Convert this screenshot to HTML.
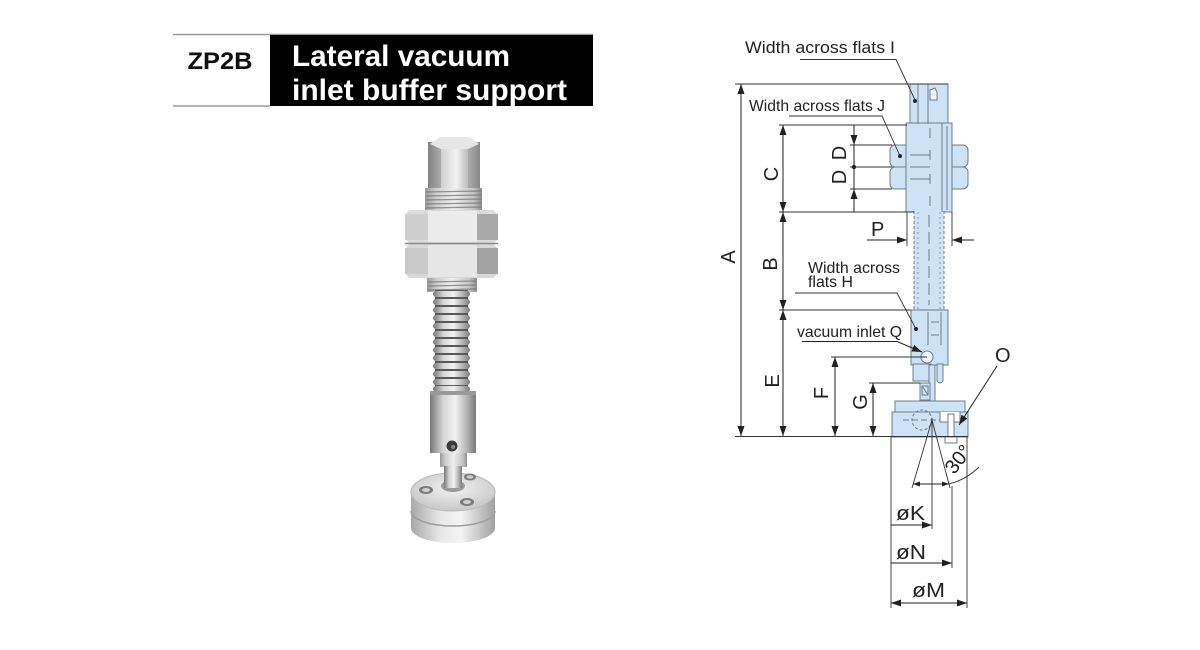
<!DOCTYPE html>
<html><head><meta charset="utf-8"><style>
html,body{margin:0;padding:0;background:#fff;}
svg{display:block;}
text{font-family:"Liberation Sans",Arial,sans-serif;}
</style></head><body>
<svg width="1200" height="650" viewBox="0 0 1200 650" xmlns="http://www.w3.org/2000/svg">
<defs>
<linearGradient id="m1" x1="0" x2="1" y1="0" y2="0">
<stop offset="0" stop-color="#767676"/><stop offset="0.28" stop-color="#d4d4d4"/><stop offset="0.55" stop-color="#f2f2f2"/><stop offset="0.8" stop-color="#b4b4b4"/><stop offset="1" stop-color="#7a7a7a"/>
</linearGradient>
<linearGradient id="m2" x1="0" x2="1" y1="0" y2="0">
<stop offset="0" stop-color="#9a9a9a"/><stop offset="0.2" stop-color="#cfcfcf"/><stop offset="0.5" stop-color="#ededed"/><stop offset="0.85" stop-color="#c4c4c4"/><stop offset="1" stop-color="#8d8d8d"/>
</linearGradient>
<linearGradient id="pad" x1="0" x2="1" y1="0" y2="0">
<stop offset="0" stop-color="#a8a8a8"/><stop offset="0.35" stop-color="#e8e8e8"/><stop offset="0.6" stop-color="#f4f4f4"/><stop offset="1" stop-color="#a0a0a0"/>
</linearGradient>
<radialGradient id="padtop" cx="0.5" cy="0.4" r="0.6">
<stop offset="0" stop-color="#f2f2f2"/><stop offset="1" stop-color="#c8c8c8"/>
</radialGradient>
<marker id="ar" viewBox="0 0 10 7" refX="10" refY="3.5" markerWidth="10" markerHeight="7" markerUnits="userSpaceOnUse" orient="auto-start-reverse">
<path d="M0,0 L10,3.5 L0,7 z" fill="#222"/>
</marker>
<marker id="ars" viewBox="0 0 10 7" refX="10" refY="3.5" markerWidth="7" markerHeight="5" markerUnits="userSpaceOnUse" orient="auto-start-reverse">
<path d="M0,0 L10,3.5 L0,7 z" fill="#222"/>
</marker>
</defs>

<!-- ===== Title ===== -->
<line x1="173" y1="34.5" x2="593" y2="34.5" stroke="#9a9a9a" stroke-width="1.5"/>
<rect x="270" y="35" width="323" height="71" fill="#000"/>
<line x1="173" y1="106" x2="270" y2="106" stroke="#9a9a9a" stroke-width="1.5"/>
<text x="220" y="69" font-size="24" font-weight="bold" text-anchor="middle" fill="#111" textLength="65" lengthAdjust="spacingAndGlyphs">ZP2B</text>
<text x="292" y="66" font-size="30" font-weight="bold" fill="#fff" textLength="218" lengthAdjust="spacingAndGlyphs">Lateral vacuum</text>
<text x="292" y="100" font-size="30" font-weight="bold" fill="#fff" textLength="275" lengthAdjust="spacingAndGlyphs">inlet buffer support</text>

<!-- ===== Photo ===== -->
<g>
<!-- top hex -->
<rect x="428" y="142" width="52" height="52" fill="url(#m1)"/>
<rect x="428" y="142" width="13" height="52" fill="#8e8e8e" opacity="0.5"/>
<rect x="468" y="142" width="12" height="52" fill="#999" opacity="0.45"/>
<path d="M430,144 L440,137 L470,137 L479,144 L468,149 L441,149 Z" fill="#e6e6e6"/>
<!-- thread above nut -->
<rect x="425" y="188" width="57" height="24" fill="url(#m2)"/>
<g stroke="#6e6e6e" stroke-width="1.2" opacity="0.7">
<line x1="426" y1="192" x2="481" y2="191"/><line x1="426" y1="196" x2="481" y2="195"/><line x1="426" y1="200" x2="481" y2="199"/><line x1="426" y1="204" x2="481" y2="203"/><line x1="426" y1="208" x2="481" y2="207"/>
</g>
<!-- nuts -->
<path d="M409,210 L494,210 L498,215 L498,239 L494,243 L409,243 L405,239 L405,215 Z" fill="#dcdcdc"/>
<rect x="405" y="214" width="23" height="26" fill="#cfcfcf"/>
<rect x="428" y="211" width="49" height="31" fill="#ececec"/>
<rect x="477" y="214" width="21" height="26" fill="#a9a9a9"/>
<path d="M409,244 L494,244 L498,249 L498,273 L494,278 L409,278 L405,273 L405,249 Z" fill="#d8d8d8"/>
<rect x="405" y="248" width="23" height="26" fill="#c9c9c9"/>
<rect x="428" y="245" width="49" height="32" fill="#e6e6e6"/>
<rect x="477" y="248" width="21" height="26" fill="#a2a2a2"/>
<line x1="405" y1="243.5" x2="498" y2="243.5" stroke="#8a8a8a" stroke-width="1.5"/>
<!-- thread below nut -->
<rect x="427" y="278" width="50" height="14" fill="url(#m2)"/>
<g stroke="#6e6e6e" stroke-width="1.2" opacity="0.7">
<line x1="428" y1="282" x2="476" y2="281"/><line x1="428" y1="286" x2="476" y2="285"/><line x1="428" y1="290" x2="476" y2="289"/>
</g>
<!-- spring -->
<rect x="435" y="290" width="33" height="104" fill="#5a5a5a"/>
<g fill="url(#m1)">
<rect x="433" y="291" width="37" height="6" rx="3"/><rect x="433" y="299" width="37" height="6" rx="3"/><rect x="433" y="307" width="37" height="6" rx="3"/><rect x="433" y="315" width="37" height="6" rx="3"/><rect x="433" y="323" width="37" height="6" rx="3"/><rect x="433" y="331" width="37" height="6" rx="3"/><rect x="433" y="339" width="37" height="6" rx="3"/><rect x="433" y="347" width="37" height="6" rx="3"/><rect x="433" y="355" width="37" height="6" rx="3"/><rect x="433" y="363" width="37" height="6" rx="3"/><rect x="433" y="371" width="37" height="6" rx="3"/><rect x="433" y="379" width="37" height="6" rx="3"/><rect x="433" y="386" width="37" height="6" rx="3"/>
</g>
<!-- lower hex -->
<rect x="430" y="391" width="46" height="62" fill="url(#m1)"/>
<rect x="430" y="391" width="46" height="4" fill="#9a9a9a"/>
<circle cx="452" cy="446" r="5.5" fill="#3a3a3a"/>
<circle cx="453" cy="447" r="2" fill="#888"/>
<!-- neck & stem -->
<rect x="440" y="453" width="27" height="14" fill="url(#m2)"/>
<rect x="444" y="466" width="18" height="26" fill="url(#m1)"/>
<!-- pad -->
<path d="M411,492 L411,528 A42,15 0 0 0 495,528 L495,492 Z" fill="url(#pad)"/>
<path d="M411,511 A42,15 0 0 0 495,511" fill="none" stroke="#9e9e9e" stroke-width="1.5"/>
<ellipse cx="453" cy="492" rx="42" ry="19" fill="url(#padtop)" stroke="#b8b8b8" stroke-width="1"/>
<ellipse cx="453" cy="486" rx="12" ry="6" fill="#9a9a9a"/>
<rect x="444" y="466" width="18" height="22" fill="url(#m1)"/>
<ellipse cx="426" cy="490" rx="7" ry="4" fill="#7c7c7c"/><ellipse cx="426" cy="490" rx="4" ry="2" fill="#cfcfcf"/>
<ellipse cx="467" cy="502" rx="7" ry="4" fill="#7c7c7c"/><ellipse cx="467" cy="502" rx="4" ry="2" fill="#cfcfcf"/>
<ellipse cx="470" cy="477" rx="6" ry="3.5" fill="#7c7c7c"/><ellipse cx="470" cy="477" rx="3.5" ry="1.8" fill="#cfcfcf"/>
</g>

<!-- ===== Technical drawing ===== -->
<g fill="#cde2f4" stroke="#6f7d8a" stroke-width="1">
<!-- nuts -->
<rect x="890" y="145" width="78" height="22" rx="5"/>
<rect x="890" y="167" width="78" height="22" rx="5"/>
<!-- top I part -->
<rect x="910" y="84" width="38" height="40"/>
<!-- body -->
<rect x="906" y="123" width="46" height="89"/>
<!-- shaft/spring -->
<rect x="914" y="211" width="30" height="100" stroke="none"/>
<!-- H hex -->
<rect x="911" y="310" width="37" height="55"/>
<rect x="913" y="364" width="18" height="17"/>
<path d="M937,364 L943,364 L943,381 Q940,385 937,381 Z"/>
<!-- thin stem -->
<rect x="929" y="365" width="6" height="58"/>
<!-- small block G -->
<rect x="920" y="383" width="10" height="17"/>
<!-- pad -->
<rect x="895" y="401" width="70" height="11"/>
<rect x="892" y="412" width="76" height="25"/>
</g>
<g fill="none" stroke="#6f7d8a" stroke-width="1">
<!-- body internal lines -->
<line x1="918" y1="84" x2="918" y2="124"/>
<line x1="928" y1="84" x2="928" y2="124"/>
<path d="M930,90 L935,88 L937,92 L937,100 L930,100 Z" fill="#eef5fb"/>
<line x1="942" y1="123" x2="942" y2="212"/>
<line x1="947" y1="126" x2="947" y2="210"/>
<line x1="910" y1="155" x2="930" y2="155"/>
<line x1="910" y1="167" x2="930" y2="167"/>
<line x1="910" y1="179" x2="930" y2="179"/>
<line x1="930" y1="150" x2="930" y2="160"/>
<line x1="930" y1="174" x2="930" y2="184"/>
<line x1="930" y1="196" x2="930" y2="206"/>
<line x1="930" y1="128" x2="930" y2="138"/>
<!-- spring dashed edges -->
<line x1="914" y1="211" x2="914" y2="311" stroke-dasharray="3,2"/>
<line x1="944" y1="211" x2="944" y2="311" stroke-dasharray="3,2"/>
<line x1="918" y1="212" x2="918" y2="310" stroke-dasharray="2,3" stroke="#8c9aa6"/>
<line x1="940" y1="212" x2="940" y2="310" stroke-dasharray="2,3" stroke="#8c9aa6"/>
<line x1="929" y1="215" x2="929" y2="305" stroke-dasharray="12,5" stroke="#6f7d8a"/>
<!-- H internals -->
<line x1="928" y1="312" x2="928" y2="345"/>
<line x1="941" y1="312" x2="941" y2="345"/>
<line x1="931" y1="322" x2="939" y2="322"/>
<line x1="931" y1="335" x2="939" y2="335"/>
<!-- G block inner -->
<rect x="922" y="386" width="6" height="9"/>
<line x1="922" y1="386" x2="928" y2="395"/>
<!-- pad inner -->
<line x1="903" y1="420" x2="952" y2="420" stroke-dasharray="6,3"/>
<circle cx="922" cy="420" r="10" stroke-dasharray="3,2"/>
<path d="M940,412 L940,422 L960,422 L960,412" fill="#fff"/>
</g>
<!-- ball -->
<circle cx="927" cy="357" r="6" fill="#eef5fb" stroke="#6f7d8a" stroke-width="1"/>
<!-- small bolt O -->
<rect x="948" y="414" width="6" height="23" fill="#fff" stroke="#6f7d8a" stroke-width="1"/>
<rect x="945" y="437" width="12" height="6" fill="#fff" stroke="#6f7d8a" stroke-width="1"/>

<!-- dots -->
<g fill="#222">
<circle cx="915" cy="101" r="2"/>
<circle cx="900" cy="156" r="2"/>
<circle cx="916" cy="329" r="2"/>
<circle cx="854" cy="167" r="2.2"/>
</g>

<!-- extension lines -->
<g stroke="#333" stroke-width="0.9" fill="none">
<line x1="735" y1="84" x2="948" y2="84"/>
<line x1="779" y1="125" x2="907" y2="125"/>
<line x1="779" y1="212" x2="914" y2="212"/>
<line x1="779" y1="310" x2="911" y2="310"/>
<line x1="735" y1="436.5" x2="968" y2="436.5"/>
<line x1="850" y1="145" x2="892" y2="145"/>
<line x1="850" y1="167" x2="892" y2="167"/>
<line x1="850" y1="189" x2="892" y2="189"/>
<line x1="831" y1="357" x2="927" y2="357"/>
<line x1="869" y1="383" x2="920" y2="383"/>
<line x1="907" y1="212" x2="907" y2="246"/>
<line x1="952" y1="212" x2="952" y2="246"/>
<line x1="891" y1="437" x2="891" y2="608"/>
<line x1="967" y1="437" x2="967" y2="608"/>
<line x1="952" y1="486" x2="952" y2="568"/>
<line x1="932" y1="418" x2="932" y2="529"/>
<!-- cone -->
<line x1="932" y1="420" x2="912" y2="488"/>
<line x1="932" y1="420" x2="950" y2="488"/>
<!-- 30 deg arc -->
<path d="M949,484 A66,66 0 0 0 979,467"/>
<!-- leaders -->
<polyline points="800,59.5 896,59.5 915,100"/>
<polyline points="789,116 882,116 900,156"/>
<polyline points="795,293 897,293 916,329"/>
</g>

<!-- dimension lines with arrows -->
<g stroke="#222" stroke-width="1" fill="none">
<line x1="741" y1="84" x2="741" y2="436" marker-start="url(#ar)" marker-end="url(#ar)"/>
<line x1="783" y1="125" x2="783" y2="212" marker-start="url(#ar)" marker-end="url(#ar)"/>
<line x1="783" y1="212" x2="783" y2="310" marker-start="url(#ar)" marker-end="url(#ar)"/>
<line x1="783" y1="310" x2="783" y2="436" marker-start="url(#ar)" marker-end="url(#ar)"/>
<line x1="854" y1="125" x2="854" y2="145" marker-end="url(#ar)"/>
<line x1="854" y1="145" x2="854" y2="189"/>
<line x1="854" y1="212" x2="854" y2="189" marker-end="url(#ar)"/>
<line x1="835" y1="357" x2="835" y2="436" marker-start="url(#ar)" marker-end="url(#ar)"/>
<line x1="873" y1="383" x2="873" y2="436" marker-start="url(#ar)" marker-end="url(#ar)"/>
<line x1="867" y1="240" x2="907" y2="240" marker-end="url(#ar)"/>
<line x1="974" y1="240" x2="952" y2="240" marker-end="url(#ar)"/>
<line x1="891" y1="525" x2="932" y2="525" marker-end="url(#ar)"/>
<line x1="891" y1="563" x2="952" y2="563" marker-end="url(#ar)"/>
<line x1="891" y1="603" x2="967" y2="603" marker-start="url(#ar)" marker-end="url(#ar)"/>
<line x1="913" y1="484" x2="949" y2="484" marker-start="url(#ars)" marker-end="url(#ars)"/>
<line x1="802" y1="341.5" x2="897" y2="341.5"/>
<line x1="897" y1="341.5" x2="922" y2="352" marker-end="url(#ar)"/>
<line x1="997" y1="366" x2="959" y2="425" marker-end="url(#ar)"/>
</g>

<!-- labels -->
<g fill="#222">
<text x="745" y="53" font-size="17" textLength="150" lengthAdjust="spacingAndGlyphs">Width across flats I</text>
<text x="749" y="111" font-size="16" textLength="136" lengthAdjust="spacingAndGlyphs">Width across flats J</text>
<text x="808" y="273" font-size="16" textLength="92" lengthAdjust="spacingAndGlyphs">Width across</text>
<text x="808" y="287" font-size="16" textLength="45" lengthAdjust="spacingAndGlyphs">flats H</text>
<text x="797" y="337" font-size="16" textLength="105" lengthAdjust="spacingAndGlyphs">vacuum inlet Q</text>
<text x="871" y="236" font-size="20">P</text>
<text x="995" y="362" font-size="20">O</text>
<g font-size="20" text-anchor="middle">
<text transform="translate(728,257) rotate(-90)" x="0" y="7">A</text>
<text transform="translate(771,174) rotate(-90)" x="0" y="7">C</text>
<text transform="translate(770,264) rotate(-90)" x="0" y="7">B</text>
<text transform="translate(772,381) rotate(-90)" x="0" y="7">E</text>
<text transform="translate(839,153) rotate(-90)" x="0" y="7">D</text>
<text transform="translate(839,177) rotate(-90)" x="0" y="7">D</text>
<text transform="translate(821,393) rotate(-90)" x="0" y="7">F</text>
<text transform="translate(860,402) rotate(-90)" x="0" y="7">G</text>
<text transform="translate(958,459) rotate(-52)" x="0" y="7">30°</text>
</g>
<text x="896" y="520" font-size="20" textLength="29" lengthAdjust="spacingAndGlyphs">øK</text>
<text x="896" y="559" font-size="20" textLength="30" lengthAdjust="spacingAndGlyphs">øN</text>
<text x="912" y="597" font-size="20" textLength="33" lengthAdjust="spacingAndGlyphs">øM</text>
</g>
</svg>
</body></html>
